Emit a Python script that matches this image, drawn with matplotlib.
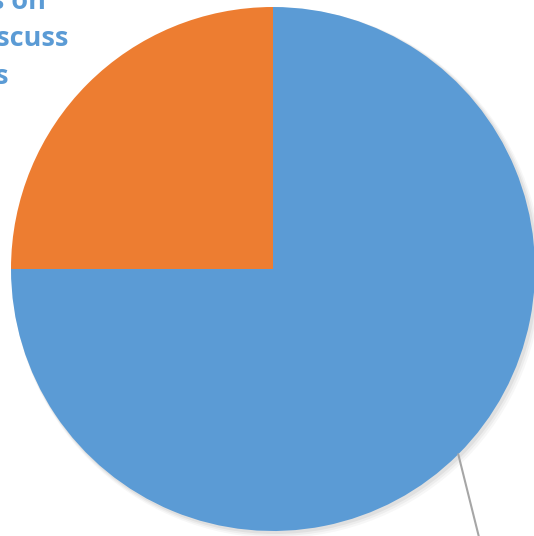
import matplotlib.pyplot as plt
import numpy as np

# pie data (share of answers)
labels = ["Yes", "No"]
shares = [75, 25]
colors = ['#5B9BD5', '#ED7D31']

# title lines, only their tails are visible in the crop
title_lines = ["Opportunities on", "to discuss", "issues"]

fig = plt.figure(figsize=(5.34, 5.36), dpi=100)
ax = fig.add_axes([0, 0, 1, 1])

cx, cy, r = 273, 267, 262

# soft shadow under the pie
for i, a in enumerate([0.05, 0.04, 0.03]):
    sh = plt.Circle((cx + 2 + i, cy - 2 - i), r + 1 + i, color='black', alpha=a, lw=0)
    ax.add_patch(sh)

wedges, _ = ax.pie(shares, colors=colors, startangle=90, counterclock=False,
                   center=(cx, cy), radius=r, frame=True,
                   wedgeprops=dict(linewidth=0))

# leader line from the middle of the big wedge
w = wedges[0]
mid = np.deg2rad((w.theta1 + w.theta2) / 2)
x0, y0 = cx + r * np.cos(mid), cy + r * np.sin(mid)
ax.annotate("", xy=(x0, y0), xytext=(x0 + 24, y0 - 96),
            arrowprops=dict(arrowstyle='-', color='#A6A6A6', lw=1.5,
                            shrinkA=0, shrinkB=0))

for txt, (xe, yb) in zip(title_lines, [(46, 527), (68, 490), (8, 452)]):
    ax.text(xe, yb, txt, ha='right', va='baseline', fontsize=19.5,
            fontweight='bold', family='Open Sans', color='#5B9BD5')

ax.set_xlim(0, 534)
ax.set_ylim(0, 536)
ax.set_aspect('equal')
ax.axis('off')

fig.savefig('out.png', dpi=100)
